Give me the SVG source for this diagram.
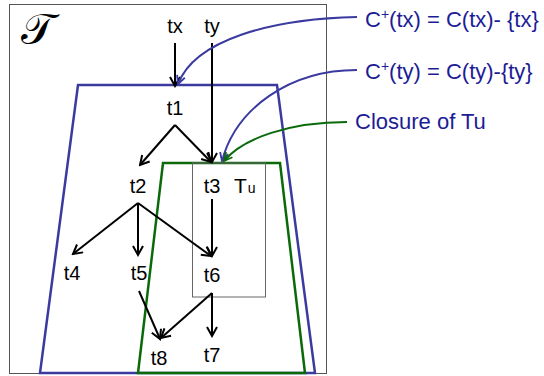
<svg xmlns="http://www.w3.org/2000/svg" width="544" height="376" viewBox="0 0 544 376">
<defs>
<marker id="ah" viewBox="0 0 12 12" refX="10" refY="6" markerWidth="12" markerHeight="12" markerUnits="userSpaceOnUse" orient="auto">
<path d="M1,1 L10,6 L1,11" fill="none" stroke="#000" stroke-width="2"/>
</marker>
<marker id="ahb" viewBox="0 0 12 12" refX="10" refY="6" markerWidth="11" markerHeight="11" markerUnits="userSpaceOnUse" orient="auto">
<path d="M1,1.5 L10,6 L1,10.5" fill="none" stroke="#3a3aa0" stroke-width="2"/>
</marker>
<marker id="ahg" viewBox="0 0 12 12" refX="10" refY="6" markerWidth="11" markerHeight="11" markerUnits="userSpaceOnUse" orient="auto">
<path d="M1,1.5 L10,6 L1,10.5" fill="none" stroke="#0a6a0a" stroke-width="2"/>
</marker>
</defs>
<style>
.lbl{font-family:"Liberation Sans",Arial,sans-serif;font-size:20px;fill:#000;text-anchor:middle}
.note{font-family:"Liberation Sans",Arial,sans-serif;font-size:22px;fill:#1c1c96}
.edge{fill:none;stroke:#000;stroke-width:2;marker-end:url(#ah)}
</style>
<rect x="9.5" y="4.5" width="317" height="369" fill="#fff" stroke="#555" stroke-width="1"/>
<text x="21" y="44" font-family="'DejaVu Serif',serif" font-size="44" fill="#000">𝒯</text>
<g id="closure-tx"><polygon points="78,85 277,85 315,373 40,373" fill="none" stroke="#3a3aa0" stroke-width="2.5"/></g>
<g id="closure-tu"><polygon points="163,163 280,163 305,373 138,373" fill="none" stroke="#0a6a0a" stroke-width="2.5"/></g>
<g id="Tu"><rect x="192.5" y="163" width="73" height="134" fill="none" stroke="#666" stroke-width="1"/></g>
<g id="tx"><text class="lbl" x="175" y="33">tx</text></g>
<g id="ty"><text class="lbl" x="212" y="33">ty</text></g>
<g id="t1"><text class="lbl" x="175" y="115">t1</text></g>
<g id="t2"><text class="lbl" x="138" y="193">t2</text></g>
<g id="t3"><text class="lbl" x="212" y="193">t3</text></g>
<g id="Tu-label"><text font-family="'Liberation Sans',Arial,sans-serif" font-size="21" x="234" y="193">T<tspan font-size="14" dx="1">u</tspan></text></g>
<g id="t4"><text class="lbl" x="72" y="280">t4</text></g>
<g id="t5"><text class="lbl" x="139" y="280">t5</text></g>
<g id="t6"><text class="lbl" x="212" y="282">t6</text></g>
<g id="t7"><text class="lbl" x="212" y="362">t7</text></g>
<g id="t8"><text class="lbl" x="159" y="365">t8</text></g>
<g id="note-tx"><text class="note" x="365" y="27">C<tspan font-size="14" dy="-8">+</tspan><tspan dy="8">(tx) = C(tx)- {tx}</tspan></text></g>
<g id="note-ty"><text class="note" x="365" y="79">C<tspan font-size="14" dy="-8">+</tspan><tspan dy="8">(ty) = C(ty)-{ty}</tspan></text></g>
<g id="note-tu"><text class="note" x="355" y="129">Closure of Tu</text></g>
<g id="connectors">
<path class="edge" d="M175,43 L175,86"/>
<path class="edge" d="M212,43 L212,162"/>
<path class="edge" d="M175,125 L140,165"/>
<path class="edge" d="M175,125 L211,162"/>
<path class="edge" d="M138,203 L73,254"/>
<path class="edge" d="M138,203 L138,255"/>
<path class="edge" d="M138,203 L211,256"/>
<path class="edge" d="M212,199 L212,256"/>
<path class="edge" d="M139,291 L160,339"/>
<path class="edge" d="M212,293 L161,338"/>
<path class="edge" d="M212,293 L212,336"/>
<path d="M357,17 C270,19 195,40 178,84" fill="none" stroke="#3a3aa0" stroke-width="2" marker-end="url(#ahb)"/>
<path d="M357,70 C290,70 236,108 222,161" fill="none" stroke="#3a3aa0" stroke-width="2" marker-end="url(#ahb)"/>
<path d="M347,122 C290,122 243,138 224,161" fill="none" stroke="#0a6a0a" stroke-width="2" marker-end="url(#ahg)"/>
</g>
</svg>
